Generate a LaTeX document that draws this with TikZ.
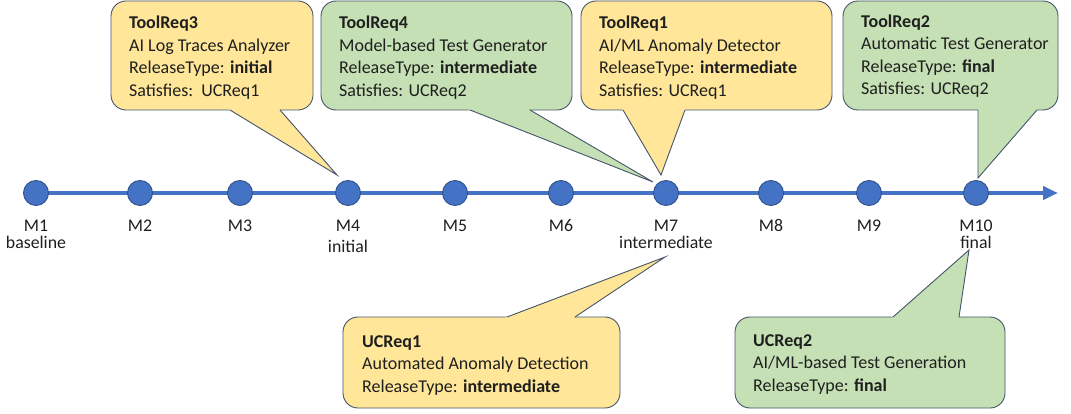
\documentclass[tikz,border=0pt]{standalone}
\usepackage{fontspec}
\setmainfont{Carlito}
\usetikzlibrary{calc,arrows.meta}
\definecolor{tlblue}{HTML}{4472C4}
\definecolor{tldark}{HTML}{2F528F}
\definecolor{yel}{HTML}{FFE699}
\definecolor{grn}{HTML}{C5E0B4}
\definecolor{bord}{HTML}{44546A}
\definecolor{txt}{HTML}{1F1F1F}
\tikzset{
  ms/.style={circle, fill=tlblue, draw=tldark, line width=0.9pt, minimum size=25pt, inner sep=0pt},
  mlabel/.style={font=\fontsize{17.8}{18}\selectfont, anchor=base, inner sep=0pt, text=txt},
  ctext/.style={font=\fontsize{18}{22.5}\selectfont, align=left, anchor=base west, inner sep=0pt, text=txt},
  boxline/.style={draw=bord, line width=0.9pt},
}
\newcommand\mycallout[6]{% #1 colour, #2 top-left, #3 bottom-right, #4 base left, #5 base right, #6 tip
  \draw[boxline, fill=#1, rounded corners=15pt] #2 rectangle #3;
  \fill[#1] #6 -- ($#6!1.07!#4$) -- ($#6!1.07!#5$) -- cycle;
  \draw[boxline, line join=miter] #4 -- #6 -- #5;
}
\begin{document}
\begin{tikzpicture}[x=1pt, y=-1pt]
\useasboundingbox (0,0) rectangle (1071,414);
% milestones
\foreach \n/\x in {1/36,2/140,3/240,4/348,5/455,6/561,7/666,8/771,9/869,10/976}{
  \coordinate (p\n) at (\x,193);
}
\coordinate (arrowend) at (1058,193);
\draw[tlblue, line width=4pt, -{Triangle[length=15pt,width=13pt]}] (p1) -- (arrowend);
\foreach \n in {1,...,10}{
  \node[ms] (m\n) at (p\n) {};
  \node[mlabel] (l\n) at ($(p\n)+(0,38.5)$) {M\n};
}
\node[mlabel] (s1) at ($(p1)+(0,55.5)$) {baseline};
\node[mlabel] (s4) at ($(p4)+(0,60)$) {initial};
\node[mlabel] (s7) at ($(p7)+(0,56)$) {intermediate};
\node[mlabel] (s10) at ($(p10)+(0,55.5)$) {final};

% ToolReq3
\coordinate (t3a) at (230,110); \coordinate (t3b) at (280,110); \coordinate (t3tip) at (337,175);
\mycallout{yel}{(111,1)}{(313,110)}{(t3a)}{(t3b)}{(t3tip)}
\node[ctext] (t3) at (129,96.5) {\textbf{ToolReq3}\\AI Log Traces Analyzer\\ReleaseType: \textbf{initial}\\Satisfies:\ \ UCReq1};

% ToolReq4
\coordinate (t4a) at (470,110); \coordinate (t4b) at (530,110); \coordinate (t4tip) at (653,182);
\mycallout{grn}{(321,1)}{(572,110)}{(t4a)}{(t4b)}{(t4tip)}
\node[ctext] (t4) at (339,96.5) {\textbf{ToolReq4}\\Model-based Test Generator\\ReleaseType: \textbf{intermediate}\\Satisfies: UCReq2};

% ToolReq1
\coordinate (t1a) at (623,110); \coordinate (t1b) at (685,110); \coordinate (t1tip) at (661,175);
\mycallout{yel}{(581,1)}{(832,110)}{(t1a)}{(t1b)}{(t1tip)}
\node[ctext] (t1) at (599,96.5) {\textbf{ToolReq1}\\AI/ML Anomaly Detector\\ReleaseType: \textbf{intermediate}\\Satisfies: UCReq1};

% ToolReq2
\coordinate (t2a) at (978,110); \coordinate (t2b) at (1037,110); \coordinate (t2tip) at (978,178);
\mycallout{grn}{(843,1)}{(1058,110)}{(t2a)}{(t2b)}{(t2tip)}
\node[ctext] (t2) at (861,95) {\textbf{ToolReq2}\\Automatic Test Generator\\ReleaseType: \textbf{final}\\Satisfies: UCReq2};

% UCReq1
\coordinate (u1a) at (507,317); \coordinate (u1b) at (575,317); \coordinate (u1tip) at (665,257);
\mycallout{yel}{(343,317)}{(620,408)}{(u1a)}{(u1b)}{(u1tip)}
\node[ctext] (u1) at (362,392) {\textbf{UCReq1}\\Automated Anomaly Detection\\ReleaseType: \textbf{intermediate}};

% UCReq2
\coordinate (u2a) at (893,317); \coordinate (u2b) at (959,317); \coordinate (u2tip) at (969,250);
\mycallout{grn}{(735,317)}{(1005,408)}{(u2a)}{(u2b)}{(u2tip)}
\node[ctext] (u2) at (753,391) {\textbf{UCReq2}\\AI/ML-based Test Generation\\ReleaseType: \textbf{final}};
\end{tikzpicture}
\end{document}
